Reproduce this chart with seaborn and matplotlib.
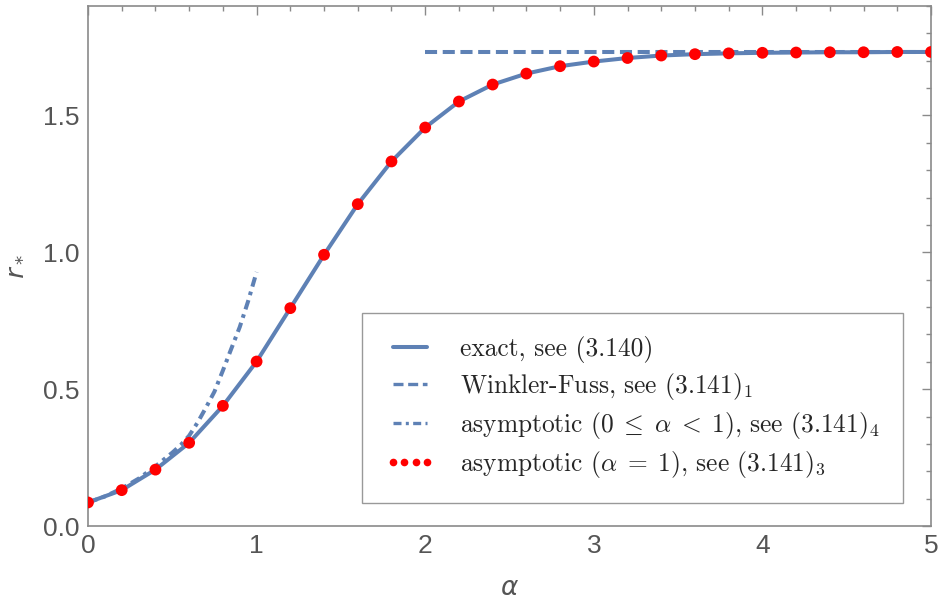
import matplotlib
matplotlib.use("Agg")
import matplotlib.pyplot as plt
from matplotlib.lines import Line2D
from matplotlib.ticker import MultipleLocator, FormatStrFormatter
import seaborn as sns

# ---- data ----
alpha_pts = [0.0, 0.2, 0.4, 0.6, 0.8, 1.0, 1.2, 1.4, 1.6, 1.8, 2.0, 2.2, 2.4,
             2.6, 2.8, 3.0, 3.2, 3.4, 3.6, 3.8, 4.0, 4.2, 4.4, 4.6, 4.8, 5.0]
r_exact = [0.086, 0.131, 0.206, 0.304, 0.439, 0.601, 0.796, 0.991, 1.176, 1.332,
           1.456, 1.551, 1.613, 1.653, 1.680, 1.697, 1.710, 1.719, 1.724, 1.727,
           1.729, 1.730, 1.731, 1.731, 1.732, 1.732]
alpha_wf = [2.0, 5.0]
r_wf = [1.732, 1.732]
alpha_asym = [0.0, 0.1, 0.2, 0.3, 0.4, 0.5, 0.55, 0.6, 0.65, 0.7, 0.75, 0.8,
              0.85, 0.9, 0.95, 1.0]
r_asym = [0.086, 0.108, 0.137, 0.173, 0.218, 0.268, 0.296, 0.330, 0.378, 0.433,
          0.491, 0.568, 0.648, 0.727, 0.822, 0.928]

labels = [
    "exact, see (3.140)",
    "Winkler-Fuss, see (3.141)$_1$",
    r"asymptotic ($0\;\leq\;\alpha\;<\;1$), see (3.141)$_4$",
    r"asymptotic ($\alpha\;=\;1$), see (3.141)$_3$",
]

BLUE = "#5E81B5"
RED = "#FF0000"
GRAY_SPINE = "#8a8a8a"
GRAY_TEXT = "#555555"

sns.set_theme(style="white")
plt.rcParams["mathtext.fontset"] = "cm"
plt.rcParams["font.family"] = ["DejaVu Sans"]

fig = plt.figure(figsize=(9.47, 6.08), dpi=100)
ax = fig.add_axes([88 / 947, (608 - 526) / 608, (931 - 88) / 947, 520 / 608])

lw = 2.9
dash_wf = (0, (3.0, 1.4))
dash_asym = (0, (2.4, 1.3, 0.9, 1.3))
sns.lineplot(x=alpha_pts, y=r_exact, ax=ax, color=BLUE, lw=lw,
             solid_capstyle="butt", zorder=2)
sns.lineplot(x=alpha_wf, y=r_wf, ax=ax, color=BLUE, lw=lw,
             linestyle=dash_wf, dash_capstyle="butt", zorder=3)
sns.lineplot(x=alpha_asym, y=r_asym, ax=ax, color=BLUE, lw=lw,
             linestyle=dash_asym, dash_capstyle="butt", zorder=3)
sns.scatterplot(x=alpha_pts, y=r_exact, ax=ax, color=RED, s=72,
                edgecolor="none", linewidth=0, zorder=5)

ax.set_xlim(0, 5)
ax.set_ylim(0, 1.9)
ax.xaxis.set_major_locator(MultipleLocator(1))
ax.xaxis.set_minor_locator(MultipleLocator(0.2))
ax.yaxis.set_major_locator(MultipleLocator(0.5))
ax.yaxis.set_minor_locator(MultipleLocator(0.1))
ax.yaxis.set_major_formatter(FormatStrFormatter("%.1f"))

for s in ax.spines.values():
    s.set_color(GRAY_SPINE)
    s.set_linewidth(1.2)
    s.set_visible(True)

ax.tick_params(which="both", direction="in", top=True, right=True,
               color=GRAY_SPINE, width=1.0)
ax.tick_params(which="major", length=6.5, pad=6)
ax.tick_params(which="minor", length=3.6)

tick_font = ["Liberation Sans", "DejaVu Sans"]
for t in ax.get_xticklabels() + ax.get_yticklabels():
    t.set_fontfamily(tick_font)
    t.set_fontsize(19)
    t.set_color(GRAY_TEXT)

xl = ax.set_xlabel(r"$\alpha$", fontsize=19, color=GRAY_TEXT, labelpad=12)
yl = ax.set_ylabel(r"$r_*$", fontsize=19, color=GRAY_TEXT, labelpad=12)
xl.set_math_fontfamily("dejavusans")
yl.set_math_fontfamily("dejavusans")

handles = [
    Line2D([], [], color=BLUE, lw=lw),
    Line2D([], [], color=BLUE, lw=2.4, linestyle=dash_wf),
    Line2D([], [], color=BLUE, lw=2.4, linestyle=dash_asym),
    Line2D([], [], color=RED, linestyle="none", marker="o", markersize=5.5,
           markeredgewidth=0),
]
leg = ax.legend(handles, labels, loc="lower left",
                bbox_to_anchor=(0.325, 0.044), borderaxespad=0,
                prop={"family": "cmr10", "size": 18.3}, numpoints=4,
                handlelength=1.95, handletextpad=1.0, labelspacing=0.31,
                borderpad=0.92, fancybox=False, framealpha=1,
                edgecolor="#999999")
leg.get_frame().set_linewidth(1.0)

fig.savefig("out.png", dpi=100)
